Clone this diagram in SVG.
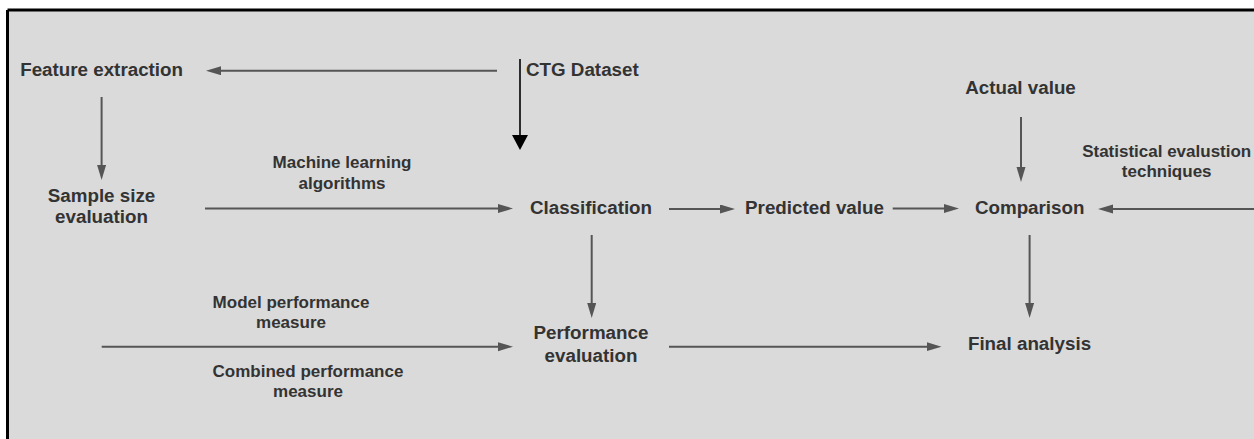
<svg xmlns="http://www.w3.org/2000/svg" width="1254" height="439" viewBox="0 0 1254 439">
<style>
.n{font-family:"Liberation Sans",Arial,sans-serif;font-weight:bold;font-size:18.8px;fill:#333;text-anchor:middle}
.l{font-family:"Liberation Sans",Arial,sans-serif;font-weight:bold;font-size:17px;fill:#333;text-anchor:middle}
.c{stroke:#555;stroke-width:2;fill:none;marker-end:url(#ah)}
</style>
<defs>
<marker id="ah" markerUnits="userSpaceOnUse" markerWidth="16" markerHeight="10" refX="5" refY="4.5" orient="auto"><path d="M0,0 L15,4.5 L0,9 z" fill="#555"/></marker>
<marker id="ahb" markerUnits="userSpaceOnUse" markerWidth="16" markerHeight="17" refX="5" refY="8" orient="auto"><path d="M0,0 L15,8 L0,16 z" fill="#000"/></marker>
</defs>
<rect x="0" y="0" width="1254" height="439" fill="#fff"/>
<rect x="7.5" y="10" width="1247" height="429" fill="#dadada"/>
<line x1="7.5" y1="10" x2="1254" y2="10" stroke="#000" stroke-width="3"/>
<line x1="7.5" y1="10" x2="7.5" y2="439" stroke="#000" stroke-width="3"/>
<g id="connectors">
<path class="c" d="M497,70.7 H216"/>
<path d="M520,59 V140" stroke="#000" stroke-width="1.6" fill="none" marker-end="url(#ahb)"/>
<path class="c" d="M101.6,97 V170"/>
<path class="c" d="M205,208.5 H503"/>
<path class="c" d="M669,209 H725"/>
<path class="c" d="M892.7,208.5 H949"/>
<path class="c" d="M1254,209 H1108"/>
<path class="c" d="M1021,117 V172"/>
<path class="c" d="M591.7,235 V308"/>
<path class="c" d="M101.7,346.7 H503"/>
<path class="c" d="M669,346.7 H931.5"/>
<path class="c" d="M1029.6,235 V308"/>
<text class="l" x="342" y="168.3">Machine learning</text>
<text class="l" x="342" y="189.3">algorithms</text>
<text class="l" x="291" y="308.3">Model performance</text>
<text class="l" x="291" y="328">measure</text>
<text class="l" x="308" y="377.3">Combined performance</text>
<text class="l" x="308" y="396.5">measure</text>
<text class="l" x="1166.7" y="156.7">Statistical evalustion</text>
<text class="l" x="1166.7" y="176.7">techniques</text>
</g>
<g id="feature"><text class="n" x="101.6" y="76">Feature extraction</text></g>
<g id="ctg"><text class="n" x="526" y="76" style="text-anchor:start">CTG Dataset</text></g>
<g id="sample"><text class="n" x="101.5" y="202">Sample size</text><text class="n" x="101.5" y="223">evaluation</text></g>
<g id="classification"><text class="n" x="591" y="213.5">Classification</text></g>
<g id="predicted"><text class="n" x="814.5" y="213.5">Predicted value</text></g>
<g id="comparison"><text class="n" x="1029.7" y="214">Comparison</text></g>
<g id="actual"><text class="n" x="1020.5" y="94">Actual value</text></g>
<g id="performance"><text class="n" x="591" y="339.3">Performance</text><text class="n" x="591" y="361.7">evaluation</text></g>
<g id="final"><text class="n" x="1029.5" y="350">Final analysis</text></g>
</svg>
